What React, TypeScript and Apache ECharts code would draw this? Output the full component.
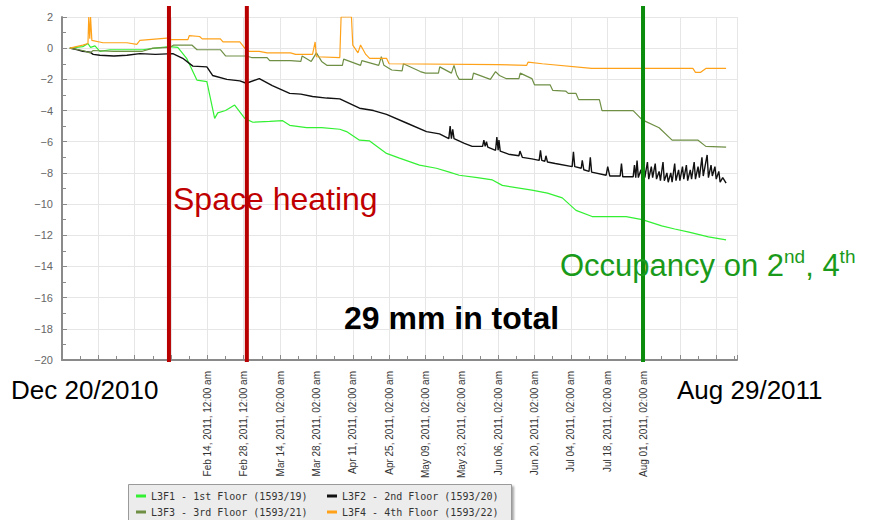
import React, { useEffect, useRef } from "react";
import * as echarts from "echarts";

// x values are days since Dec 20, 2010
const xTickLabels = [
  "", "", "", "",
  "Feb 14, 2011, 12:00 am", "Feb 28, 2011, 12:00 am",
  "Mar 14, 2011, 02:00 am", "Mar 28, 2011, 02:00 am",
  "Apr 11, 2011, 02:00 am", "Apr 25, 2011, 02:00 am",
  "May 09, 2011, 02:00 am", "May 23, 2011, 02:00 am",
  "Jun 06, 2011, 02:00 am", "Jun 20, 2011, 02:00 am",
  "Jul 04, 2011, 02:00 am", "Jul 18, 2011, 02:00 am",
  "Aug 01, 2011, 02:00 am", "", "",
];

const seriesNames = [
  "L3F1 - 1st Floor (1593/19)",
  "L3F2 - 2nd Floor (1593/20)",
  "L3F3 - 3rd Floor (1593/21)",
  "L3F4 - 4th Floor (1593/22)",
];

const l3f1Days = [3, 8, 10, 11, 12.7, 14.6, 18.5, 31, 36, 41.5, 44.6, 48, 52, 55.8, 58.8, 60, 63, 66.5, 70.4, 73.5, 80, 85, 87.7, 94.2, 100, 107, 109.6, 114.6, 118.5, 125, 130, 137.7, 144.2, 149.2, 153, 160, 165.8, 169.6, 181, 187, 192.7, 198, 204.2, 217.3, 223.5, 231, 236, 241.5, 249, 255.8];
const l3f1Vals = [0, 0.1, 0.3, 0.05, 0.15, -0.2, -0.1, -0.1, 0.0, 0.1, 0.05, -0.65, -2.05, -2.15, -4.5, -4.15, -4.0, -3.65, -4.5, -4.75, -4.7, -4.65, -4.95, -5.1, -5.1, -5.2, -5.35, -5.9, -5.95, -6.75, -7.05, -7.5, -7.7, -7.95, -8.15, -8.3, -8.45, -8.8, -9.1, -9.3, -9.6, -10.4, -10.8, -10.8, -11.0, -11.4, -11.6, -11.8, -12.1, -12.3];

const l3f2Days = [3, 6, 8, 10.8, 12, 14.6, 20, 25, 30, 36, 42.7, 46.5, 50.4, 55.8, 58, 63.5, 68.5, 71, 76, 81, 87.7, 92, 96.5, 102, 107, 114.6, 120, 125, 132.7, 140.4, 145.4, 149, 149.5, 150, 150.5, 151, 155, 158, 162, 162.5, 163, 163.5, 164, 167, 167.5, 168, 168.3, 168.8, 172, 176, 176.4, 177.3, 181, 183.8, 184.3, 184.8, 186, 186.4, 187, 190, 196.5, 197, 197.5, 200, 200.4, 201, 203, 203.5, 204, 209.6, 210.2, 211, 215, 215.5, 216, 220, 220.5, 221, 221.5, 222, 223, 223.5, 224, 224.5, 225.5, 226, 227, 227.5, 228.5, 229, 230, 230.5, 231.5, 232, 233, 233.5, 234.5, 235, 236, 236.5, 237.5, 238, 239, 239.5, 240.5, 241, 242, 242.5, 243.5, 244, 245, 245.5, 246.5, 247, 248, 248.5, 249, 250, 250.5, 251.5, 252, 253, 253.5, 254.5, 255.8];
const l3f2Vals = [0, -0.1, -0.2, -0.25, -0.4, -0.45, -0.5, -0.45, -0.35, -0.4, -0.35, -0.65, -1.15, -1.2, -1.75, -2.0, -2.1, -2.25, -1.95, -2.4, -2.9, -2.95, -3.1, -3.2, -3.25, -3.85, -4.0, -4.25, -4.8, -5.35, -5.5, -5.8, -5.0, -5.8, -5.2, -5.8, -6.1, -6.3, -6.3, -5.9, -6.3, -6.0, -6.35, -6.55, -5.7, -6.55, -5.9, -6.6, -6.8, -6.9, -6.6, -7.0, -7.1, -7.2, -6.55, -7.2, -7.25, -6.9, -7.3, -7.4, -7.6, -6.65, -7.6, -7.7, -7.2, -7.8, -7.9, -7.0, -7.95, -8.15, -7.6, -8.2, -8.2, -7.4, -8.25, -8.25, -7.5, -8.3, -7.2, -8.3, -7.8, -8.4, -7.0, -8.3, -7.3, -8.4, -7.6, -8.3, -7.4, -8.4, -7.9, -8.5, -7.3, -8.5, -8.0, -8.6, -8.0, -8.6, -7.4, -8.5, -7.8, -8.5, -7.6, -8.4, -7.5, -8.5, -7.8, -8.4, -7.3, -8.4, -7.6, -8.3, -7.0, -8.2, -7.3, -6.85, -8.3, -7.5, -8.2, -7.6, -8.4, -7.9, -8.6, -8.3, -8.65];

const l3f3Days = [3, 8, 10.8, 12, 20, 31, 35, 41.5, 43, 50, 52, 61, 63, 71, 73, 79, 80, 88, 92, 92.5, 96, 98, 100, 102, 108, 108.5, 115, 115.5, 122, 123, 124, 127, 131, 131.5, 138, 140, 145, 145.5, 150, 151, 152, 153, 158, 158.5, 165, 167, 168.5, 171, 176, 176.5, 181, 182, 188, 189, 194, 195, 198, 199, 207, 208, 220, 223.5, 230, 235, 245, 248, 255.8];
const l3f3Vals = [0, -0.15, -0.3, -0.15, -0.2, -0.2, 0.0, 0.05, 0.2, 0.2, -0.1, -0.1, -0.5, -0.5, -0.6, -0.6, -0.8, -0.8, -0.85, -0.5, -0.85, -0.3, -0.85, -1.1, -1.1, -0.7, -1.1, -0.8, -1.1, -0.55, -1.1, -1.4, -1.45, -1.0, -1.5, -1.6, -1.6, -1.2, -1.6, -1.1, -1.7, -2.0, -2.0, -1.6, -2.0, -1.5, -1.75, -1.95, -1.95, -1.6, -1.95, -2.35, -2.35, -2.7, -2.75, -2.9, -2.9, -3.3, -3.3, -4.0, -4.0, -4.6, -5.1, -5.9, -5.9, -6.3, -6.35];

const l3f4Days = [3, 8, 10, 10.3, 10.7, 11, 11.5, 15.8, 25, 28.8, 30, 40.4, 41.5, 48.5, 49, 53, 54, 61, 62, 68.5, 70.4, 72, 76, 79, 88, 90, 96.5, 97.5, 98, 107, 107.5, 111.5, 112, 114, 115, 117, 118.5, 125, 126, 168, 179, 179.5, 185, 204, 243, 244, 246, 248, 255.8];
const l3f4Vals = [0, 0.2, 0.3, 2.0, 0.6, 2.0, 0.5, 0.35, 0.35, 0.25, 0.5, 0.65, 0.55, 0.55, 0.8, 0.75, 0.6, 0.6, 0.4, 0.4, 0.0, -0.2, -0.2, -0.3, -0.3, -0.4, -0.4, 0.4, -0.55, -0.6, 2.0, 2.0, 0.2, -0.3, 0.2, -0.4, -0.65, -0.65, -1.0, -1.05, -1.1, -0.9, -1.0, -1.3, -1.3, -1.55, -1.55, -1.3, -1.3];

const spaceHeatingDays = [41.2, 71.2];
const occupancyDay = 223.8;

const zip = (d: number[], v: number[]) => d.map((x, i) => [x, v[i]]);

export default function App() {
  const ref = useRef<HTMLDivElement>(null);
  useEffect(() => {
    const chart = echarts.init(ref.current!, null, { renderer: "svg" });
    const colors = ["#33f033", "#111111", "#6f8f45", "#ffa21a"];
    const data = [zip(l3f1Days, l3f1Vals), zip(l3f2Days, l3f2Vals), zip(l3f3Days, l3f3Vals), zip(l3f4Days, l3f4Vals)];
    const sans = "'Liberation Sans', Arial, sans-serif";
    const legendBase = {
      left: 136,
      icon: "rect",
      itemWidth: 10,
      itemHeight: 3,
      itemGap: 10,
      padding: 0,
      textStyle: { fontFamily: "'DejaVu Sans Mono', monospace", fontSize: 10, color: "#333", width: 166, lineHeight: 14 },
    };
    chart.setOption({
      animation: false,
      backgroundColor: "#ffffff",
      grid: { left: 62, top: 17, right: 132, bottom: 160, containLabel: false },
      xAxis: {
        type: "value",
        min: 0,
        max: 260,
        interval: 14,
        axisLine: { onZero: false, lineStyle: { color: "#8a8a8a", width: 2 } },
        axisTick: { inside: true, length: 5, lineStyle: { color: "#8a8a8a" } },
        minorTick: { show: true, splitNumber: 2, length: 4, lineStyle: { color: "#8a8a8a" } },
        splitLine: { show: true, lineStyle: { color: "#e6e6e6" } },
        axisLabel: {
          rotate: 90,
          margin: 11,
          fontSize: 10,
          fontFamily: sans,
          color: "#333",
          formatter: (v: number) => {
            const i = Math.round(v / 14);
            return Math.abs(v - i * 14) < 1e-6 ? xTickLabels[i] || "" : "";
          },
        },
      },
      yAxis: {
        type: "value",
        min: -20,
        max: 2,
        interval: 2,
        axisLine: { show: true, onZero: false, lineStyle: { color: "#8a8a8a", width: 2 } },
        axisTick: { show: true, inside: true, length: 5, lineStyle: { color: "#8a8a8a" } },
        minorTick: { show: true, splitNumber: 2, length: 4, lineStyle: { color: "#8a8a8a" } },
        splitLine: { show: true, lineStyle: { color: "#e6e6e6" } },
        axisLabel: {
          margin: 9,
          fontSize: 11,
          fontFamily: sans,
          color: "#666",
          formatter: (v: number) => String(v).replace("-", "\u2212"),
        },
      },
      legend: [
        { ...legendBase, top: 489, data: [seriesNames[0], seriesNames[1]] },
        { ...legendBase, top: 505, data: [seriesNames[2], seriesNames[3]] },
      ],
      series: seriesNames.map((name, i) => ({
        name,
        type: "line",
        data: data[i],
        showSymbol: false,
        symbol: "none",
        color: colors[i],
        lineStyle: { color: colors[i], width: i === 1 ? 1.4 : 1.2 },
        clip: true,
      })),
    });

    const px = (d: number) => chart.convertToPixel({ xAxisIndex: 0 }, d) as number;
    const py = (v: number) => chart.convertToPixel({ yAxisIndex: 0 }, v) as number;
    const top = py(2) - 11;
    const bottom = py(-20) + 2;
    const vline = (d: number, color: string) => ({
      type: "line",
      shape: { x1: px(d), y1: top, x2: px(d), y2: bottom },
      style: { stroke: color, lineWidth: 4 },
      z: 100,
    });
    chart.setOption({
      graphic: [
        {
          type: "rect", z: 1,
          shape: { x: 128.5, y: 484.5, width: 383, height: 44 },
          style: {
            fill: "#ececec", stroke: "#9a9a9a", lineWidth: 1,
            shadowColor: "rgba(0,0,0,0.35)", shadowBlur: 2, shadowOffsetX: 2, shadowOffsetY: 2,
          },
        },
        ...spaceHeatingDays.map((d) => vline(d, "#b80000")),
        vline(occupancyDay, "#0c8c0c"),
        {
          type: "text", x: 173, y: 198.5, z: 101,
          style: { text: "Space heating", fill: "#c00000", fontSize: 32, fontFamily: sans, align: "left", verticalAlign: "middle" },
        },
        {
          type: "text", x: 560, y: 263.5, z: 101,
          style: {
            text: "{a|Occupancy on 2}{s|nd}{a|, 4}{s|th}",
            align: "left",
            verticalAlign: "middle",
            rich: {
              a: { fontSize: 31, fontFamily: sans, fill: "#1a9a1a", lineHeight: 34, verticalAlign: "bottom" },
              s: { fontSize: 19, fontFamily: sans, fill: "#1a9a1a", lineHeight: 34, verticalAlign: "top" },
            },
          },
        },
        {
          type: "text", x: 344, y: 318, z: 101,
          style: { text: "29 mm in total", fill: "#000", fontSize: 32, fontWeight: "bold", fontFamily: sans, align: "left", verticalAlign: "middle" },
        },
        {
          type: "text", x: 11, y: 389.5, z: 101,
          style: { text: "Dec 20/2010", fill: "#000", fontSize: 26, fontFamily: sans, align: "left", verticalAlign: "middle" },
        },
        {
          type: "text", x: 677, y: 389.5, z: 101,
          style: { text: "Aug 29/2011", fill: "#000", fontSize: 26, fontFamily: sans, align: "left", verticalAlign: "middle" },
        },
      ],
    });
    return () => chart.dispose();
  }, []);
  return <div ref={ref} style={{ position: "fixed", left: 0, top: 0, width: 869, height: 520 }} />;
}
